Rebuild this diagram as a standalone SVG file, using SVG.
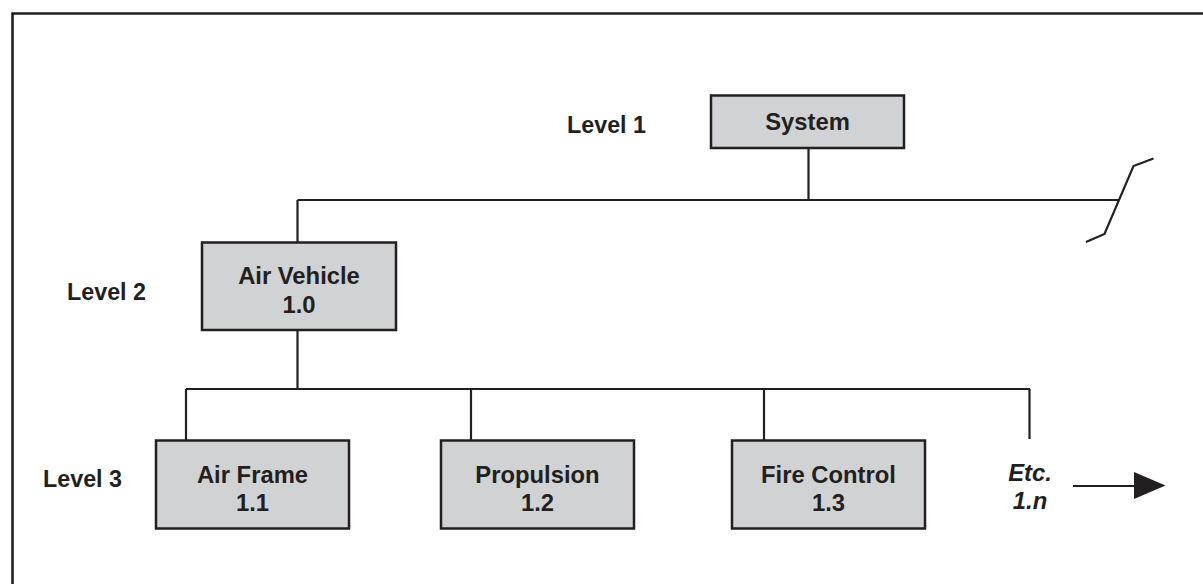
<svg xmlns="http://www.w3.org/2000/svg" width="1203" height="584" viewBox="0 0 1203 584">
<style>
.box{fill:#d1d2d4;stroke:#231f20;stroke-width:2.5}
.ln{fill:none;stroke:#231f20;stroke-width:2.2}
.t{font-family:"Liberation Sans",Arial,sans-serif;font-weight:bold;font-size:23.8px;fill:#231f20;text-anchor:middle}
.lv{font-family:"Liberation Sans",Arial,sans-serif;font-weight:bold;font-size:23.3px;fill:#231f20}
.it{font-style:italic}
</style>
<rect width="1203" height="584" fill="#ffffff"/>
<path d="M12.5 584 V13.5 H1203" fill="none" stroke="#231f20" stroke-width="2.6"/>
<g id="labels">
<text class="lv" x="567" y="132.5">Level 1</text>
<text class="lv" x="67" y="300">Level 2</text>
<text class="lv" x="43" y="486.5">Level 3</text>
</g>
<g id="connectors">
<path class="ln" d="M808.5 148 V200 M297.5 200 H1119 M297.5 200 V242 M297.5 330 V389 M186 389 H1030 M186 389 V440 M471 389 V440 M764 389 V440 M1029.5 389 V439"/>
<polyline class="ln" points="1153.5,158.5 1133.5,166 1104.5,234 1086,242"/>
<path class="ln" d="M1073 486 H1136"/>
<polygon points="1134,472 1165.5,485.5 1134,499" fill="#231f20"/>
</g>
<g id="system">
<rect class="box" x="711" y="95.5" width="193" height="52.5"/>
<text class="t" x="807.5" y="129.5">System</text>
</g>
<g id="air-vehicle">
<rect class="box" x="202" y="242.5" width="194" height="87.5"/>
<text class="t" x="299" y="284">Air Vehicle</text>
<text class="t" x="299" y="312.5">1.0</text>
</g>
<g id="air-frame">
<rect class="box" x="156" y="440.5" width="193" height="88"/>
<text class="t" x="252.5" y="482.5">Air Frame</text>
<text class="t" x="252.5" y="511">1.1</text>
</g>
<g id="propulsion">
<rect class="box" x="441" y="440.5" width="193" height="88"/>
<text class="t" x="537.5" y="482.5">Propulsion</text>
<text class="t" x="537.5" y="511">1.2</text>
</g>
<g id="fire-control">
<rect class="box" x="732" y="440.5" width="193" height="88"/>
<text class="t" x="828.5" y="482.5">Fire Control</text>
<text class="t" x="828.5" y="511">1.3</text>
</g>
<g id="etc">
<text class="t it" x="1030" y="480.5">Etc.</text>
<text class="t it" x="1030" y="508.5">1.n</text>
</g>
</svg>
